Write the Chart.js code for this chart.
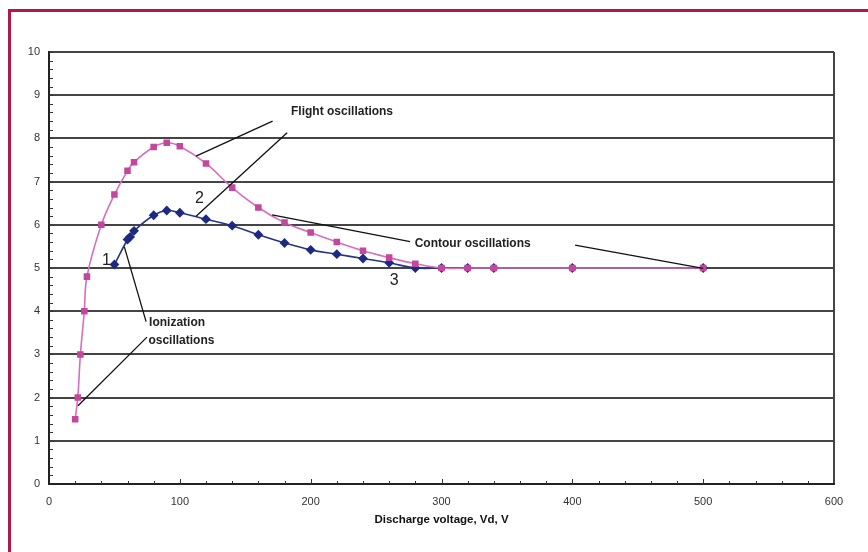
<!DOCTYPE html>
<html>
<head>
<meta charset="utf-8">
<script src="https://cdn.jsdelivr.net/npm/chart.js@4.4.1/dist/chart.umd.min.js"></script>
<style>
  html, body { margin: 0; padding: 0; background: #fff; }
  #wrap { width: 868px; height: 552px; position: relative; }
</style>
</head>
<body>
<div id="wrap"><canvas id="oscChart"></canvas></div>
<script>
// Flight oscillations (pink squares)
const flightVolts = [20, 22, 24, 27, 29, 40, 50, 60, 65, 80, 90, 100, 120, 140, 160, 180, 200, 220, 240, 260, 280, 300, 320, 340, 400, 500];
const flightAmp   = [1.5, 2.0, 3.0, 4.0, 4.8, 6.0, 6.7, 7.25, 7.45, 7.8, 7.9, 7.82, 7.42, 6.86, 6.4, 6.05, 5.82, 5.6, 5.4, 5.24, 5.1, 5.0, 5.0, 5.0, 5.0, 5.0];

// Second curve (blue diamonds)
const blueVolts = [50, 60, 62, 65, 80, 90, 100, 120, 140, 160, 180, 200, 220, 240, 260, 280, 300, 320, 340, 400, 500];
const blueAmp   = [5.08, 5.66, 5.72, 5.86, 6.22, 6.33, 6.28, 6.13, 5.98, 5.77, 5.58, 5.42, 5.32, 5.22, 5.12, 5.0, 5.0, 5.0, 5.0, 5.0, 5.0];

// Axis ticks
const xTicks = [0, 100, 200, 300, 400, 500, 600];
const yTicks = [0, 1, 2, 3, 4, 5, 6, 7, 8, 9, 10];

// Callout texts and their leader lines, in data units
const notes = [
  { text: 'Flight oscillations', x: 185, y: 8.61, font: 'bold 12px "Liberation Sans", Arial, sans-serif' },
  { text: 'Contour oscillations', x: 279.5, y: 5.57, font: 'bold 12px "Liberation Sans", Arial, sans-serif' },
  { text: 'Ionization', x: 76.5, y: 3.73, font: 'bold 12px "Liberation Sans", Arial, sans-serif' },
  { text: 'oscillations', x: 76, y: 3.32, font: 'bold 12px "Liberation Sans", Arial, sans-serif' },
  { text: '1', x: 40.5, y: 5.16, font: '16px "Liberation Sans", Arial, sans-serif' },
  { text: '2', x: 111.5, y: 6.60, font: '16px "Liberation Sans", Arial, sans-serif' },
  { text: '3', x: 260.5, y: 4.70, font: '16px "Liberation Sans", Arial, sans-serif' }
];
const leaders = [
  [112.4, 7.59, 170.9, 8.40],
  [112.4, 6.20, 182.0, 8.13],
  [170.5, 6.23, 276.0, 5.61],
  [402.1, 5.53, 500.0, 4.99],
  [57.6, 5.49, 74.2, 3.76],
  [74.9, 3.40, 22.2, 1.81]
];

const toPoints = (xs, ys) => xs.map((v, i) => ({ x: v, y: ys[i] }));

const decorations = {
  id: 'decorations',
  beforeDraw(chart) {
    const c = chart.ctx;
    c.save();
    c.fillStyle = '#fff';
    c.fillRect(0, 0, chart.width, chart.height);
    // crimson frame
    c.strokeStyle = '#b3164a';
    c.lineWidth = 3;
    c.beginPath();
    c.moveTo(9.5, chart.height);
    c.lineTo(9.5, 10.5);
    c.lineTo(chart.width, 10.5);
    c.stroke();
    c.restore();
  },
  afterDraw(chart) {
    const c = chart.ctx;
    const xs = chart.scales.x, ys = chart.scales.y;
    const a = chart.chartArea;
    c.save();
    // minor ticks
    c.strokeStyle = '#333';
    c.lineWidth = 1;
    c.beginPath();
    for (let v = 0.2; v < 10; v += 0.2) {
      const py = Math.round(ys.getPixelForValue(v)) + 0.5;
      c.moveTo(a.left, py);
      c.lineTo(a.left + 4, py);
    }
    for (let v = 20; v < 600; v += 20) {
      const px = Math.round(xs.getPixelForValue(v)) + 0.5;
      const len = v % 100 === 0 ? 5 : 3;
      c.moveTo(px, a.bottom);
      c.lineTo(px, a.bottom - len);
    }
    c.stroke();
    // leader lines
    c.strokeStyle = '#111';
    c.lineWidth = 1.3;
    leaders.forEach(l => {
      c.beginPath();
      c.moveTo(xs.getPixelForValue(l[0]), ys.getPixelForValue(l[1]));
      c.lineTo(xs.getPixelForValue(l[2]), ys.getPixelForValue(l[3]));
      c.stroke();
    });
    // callout texts
    c.fillStyle = '#222';
    c.textBaseline = 'middle';
    c.textAlign = 'left';
    notes.forEach(n => {
      c.font = n.font;
      c.fillText(n.text, xs.getPixelForValue(n.x), ys.getPixelForValue(n.y));
    });
    c.restore();
  }
};

const ctx = document.getElementById('oscChart').getContext('2d');
const oscChart = new Chart(ctx, {
  type: 'line',
  data: {
    datasets: [{
      label: 'Flight oscillations',
      data: toPoints(flightVolts, flightAmp),
      borderColor: '#d56fbf',
      backgroundColor: '#c4469d',
      pointBorderColor: '#c4469d',
      pointBackgroundColor: '#c4469d',
      pointStyle: 'rect',
      pointRadius: 3.5,
      borderWidth: 1.6,
      tension: 0.4
    }, {
      label: 'Blue curve',
      data: toPoints(blueVolts, blueAmp),
      borderColor: '#27338a',
      backgroundColor: '#1d2a80',
      pointBorderColor: '#1d2a80',
      pointBackgroundColor: '#1d2a80',
      pointStyle: 'rectRot',
      pointRadius: 3.8,
      borderWidth: 1.6,
      tension: 0.4
    }]
  },
  options: {
    responsive: true,
    maintainAspectRatio: false,
    animation: false,
    layout: { padding: { left: 10, top: 52, right: 34, bottom: 0 } },
    plugins: {
      legend: { display: false },
      tooltip: { enabled: false }
    },
    scales: {
      x: {
        type: 'linear',
        min: 0,
        max: 600,
        afterBuildTicks: s => { s.ticks = xTicks.map(v => ({ value: v })); },
        afterFit: s => { s.height = 68; },
        grid: {
          drawTicks: false,
          lineWidth: 2,
          color: c => (c.tick && c.tick.value === 600 ? '#444' : 'rgba(0,0,0,0)')
        },
        border: { display: true, color: '#222', width: 2 },
        ticks: {
          padding: 11,
          color: '#333',
          maxRotation: 0,
          font: { family: '"Liberation Sans", Arial, sans-serif', size: 11 }
        },
        title: {
          display: true,
          text: 'Discharge voltage, Vd, V',
          color: '#111',
          padding: { top: 0, bottom: 25 },
          font: { family: '"Liberation Sans", Arial, sans-serif', size: 11.5, weight: 'bold' }
        }
      },
      y: {
        min: 0,
        max: 10,
        afterBuildTicks: s => { s.ticks = yTicks.map(v => ({ value: v })); },
        afterFit: s => { s.width = 39; },
        grid: { drawTicks: false, lineWidth: 2, color: '#444' },
        border: { display: true, color: '#222', width: 2 },
        ticks: {
          padding: 9,
          color: '#333',
          font: { family: '"Liberation Sans", Arial, sans-serif', size: 11 }
        }
      }
    }
  },
  plugins: [decorations]
});
</script>
</body>
</html>
